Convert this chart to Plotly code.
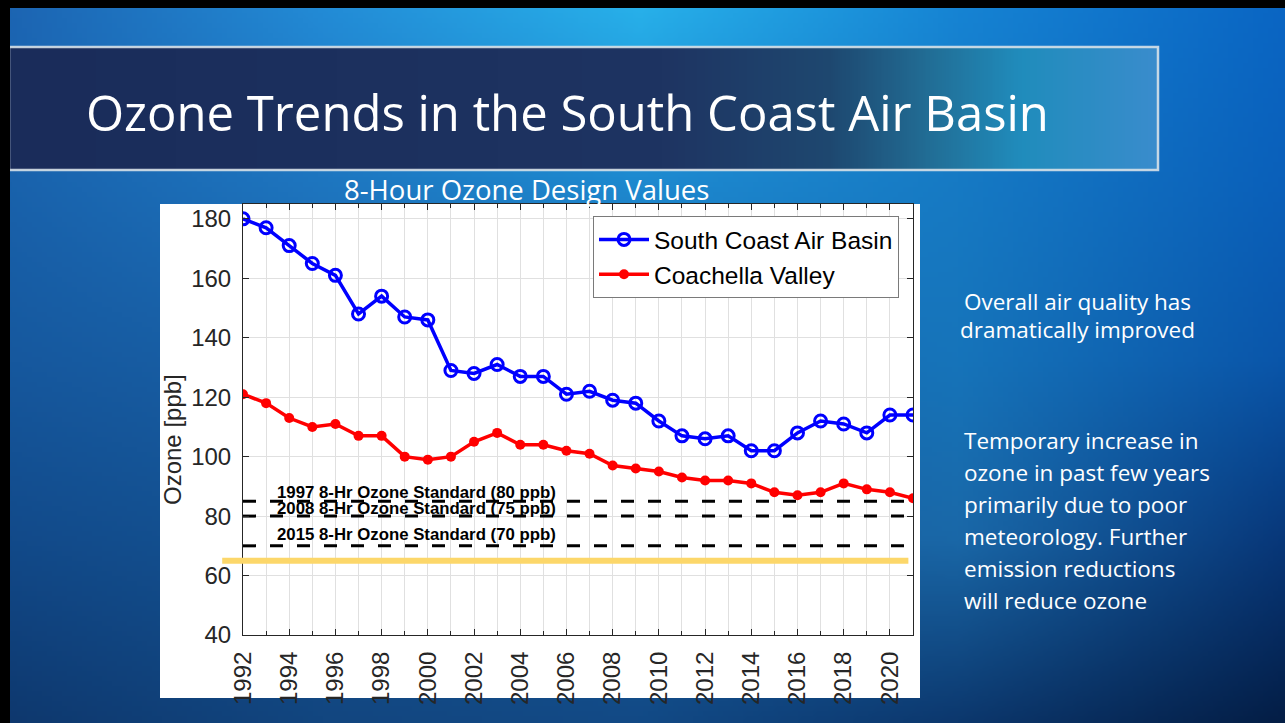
import base64
import struct
import zlib

import numpy as np
import plotly.graph_objects as go

# ---------------- data ----------------
years = list(range(1992, 2022))
south_coast = [180, 177, 171, 165, 161, 148, 154, 147, 146, 129,
               128, 131, 127, 127, 121, 122, 119, 118, 112, 107,
               106, 107, 102, 102, 108, 112, 111, 108, 114, 114]
coachella = [121, 118, 113, 110, 111, 107, 107, 100, 99, 100,
             105, 108, 104, 104, 102, 101, 97, 96, 95, 93,
             92, 92, 91, 88, 87, 88, 91, 89, 88, 86]
standard_levels = [85, 80, 70]
standard_labels = ["1997 8-Hr Ozone Standard (80 ppb)",
                   "2008 8-Hr Ozone Standard (75 ppb)",
                   "2015 8-Hr Ozone Standard (70 ppb)"]
standard_label_y = [87.8, 82.7, 73.7]
background_level = 65
x_tick_years = list(range(1992, 2021, 2))
y_ticks = [40, 60, 80, 100, 120, 140, 160, 180]

W, H = 1285, 723
SLIDE_FONT = "Open Sans"


def px(x):
    return x / W


def py(y):
    return 1 - y / H


# ---------------- background images ----------------
def png_uri(arr):
    arr = np.ascontiguousarray(arr.astype(np.uint8))
    h, w, _ = arr.shape
    raw = b"".join(b"\x00" + arr[i].tobytes() for i in range(h))

    def chunk(tag, data):
        c = struct.pack(">I", len(data)) + tag + data
        return c + struct.pack(">I", zlib.crc32(tag + data) & 0xFFFFFFFF)

    png = (b"\x89PNG\r\n\x1a\n"
           + chunk(b"IHDR", struct.pack(">IIBBBBB", w, h, 8, 2, 0, 0, 0))
           + chunk(b"IDAT", zlib.compress(raw, 9))
           + chunk(b"IEND", b""))
    return "data:image/png;base64," + base64.b64encode(png).decode()


gx = np.array([0, 320, 640, 960, 1285], float)
gy = np.array([0, 180, 360, 540, 723], float)
grid = np.array([
    [(28, 100, 178), (35, 140, 215), (40, 178, 235), (22, 132, 212), (10, 102, 196)],
    [(25, 98, 172), (30, 118, 192), (30, 138, 208), (22, 122, 196), (10, 96, 186)],
    [(22, 88, 158), (25, 98, 168), (25, 108, 178), (22, 116, 186), (10, 86, 170)],
    [(18, 74, 138), (20, 84, 148), (22, 94, 158), (26, 104, 168), (8, 56, 122)],
    [(14, 56, 110), (18, 70, 128), (18, 74, 134), (12, 56, 110), (4, 30, 70)],
], float)
rw, rh = 257, 145
xs = np.linspace(0, W, rw)
ys = np.linspace(0, H, rh)
bg = np.zeros((rh, rw, 3))
for c in range(3):
    tmp = np.array([np.interp(xs, gx, grid[j, :, c]) for j in range(len(gy))])
    bg[:, :, c] = np.array([np.interp(ys, gy, tmp[:, i]) for i in range(rw)]).T
bg_uri = png_uri(bg)

bx = np.array([0, 650, 820, 920, 1010, 1148], float)
bcol = np.array([(26, 44, 90), (30, 52, 98), (30, 72, 112), (34, 110, 150),
                 (32, 140, 188), (58, 140, 205)], float)
bxs = np.linspace(0, 1148, 300)
bar = np.zeros((2, 300, 3))
for c in range(3):
    bar[:, :, c] = np.interp(bxs, bx, bcol[:, c])
bar_uri = png_uri(bar)

# ---------------- figure ----------------
fig = go.Figure()

for lvl in standard_levels:
    fig.add_trace(go.Scatter(
        x=[years[0], years[-1]], y=[lvl, lvl], mode="lines",
        line=dict(color="black", width=3, dash="13px,14px"),
        showlegend=False, hoverinfo="skip"))

fig.add_trace(go.Scatter(
    x=years, y=south_coast, mode="lines+markers", name="South Coast Air Basin",
    line=dict(color="#0000ff", width=3.5),
    marker=dict(symbol="circle-open", size=12, color="#0000ff",
                line=dict(width=3, color="#0000ff"))))
fig.add_trace(go.Scatter(
    x=years, y=coachella, mode="lines+markers", name="Coachella Valley",
    line=dict(color="#ff0000", width=3.5),
    marker=dict(symbol="circle", size=10, color="#ff0000")))

x_dom = [px(243), px(913)]
y_dom = [py(635), py(204)]
x_rng = [1992, 2021]


def year_to_paper(yr):
    return x_dom[0] + (yr - x_rng[0]) / (x_rng[1] - x_rng[0]) * (x_dom[1] - x_dom[0])


shapes = [
    dict(type="rect", xref="paper", yref="paper", x0=px(160), x1=px(920),
         y0=py(698), y1=py(204), fillcolor="white", line_width=0, layer="below"),
    dict(type="rect", xref="paper", yref="paper", x0=px(9), x1=px(1158),
         y0=py(170), y1=py(47), fillcolor="rgba(0,0,0,0)",
         line=dict(color="rgba(215,225,232,0.9)", width=2.5), layer="below"),
    dict(type="rect", xref="paper", yref="paper", x0=0, x1=px(10),
         y0=0, y1=1, fillcolor="black", line_width=0, layer="below"),
    dict(type="rect", xref="paper", yref="paper", x0=0, x1=1,
         y0=py(8), y1=1, fillcolor="black", line_width=0, layer="below"),
    dict(type="line", xref="paper", yref="y",
         x0=year_to_paper(1991.1), x1=year_to_paper(2020.8),
         y0=background_level, y1=background_level,
         line=dict(color="#fcd76a", width=6)),
]

annotations = [
    dict(text="Ozone Trends in the South Coast Air Basin", x=px(84), y=py(112),
         xref="paper", yref="paper", xanchor="left", yanchor="middle",
         showarrow=False, font=dict(family=SLIDE_FONT, size=49, color="white")),
    dict(text="8-Hour Ozone Design Values", x=px(526), y=py(190),
         xref="paper", yref="paper", xanchor="center", yanchor="middle",
         showarrow=False, font=dict(family=SLIDE_FONT, size=27.5, color="white")),
    dict(text="Ozone [ppb]", x=px(173), y=py(440), textangle=-90,
         xref="paper", yref="paper", xanchor="center", yanchor="middle",
         showarrow=False, font=dict(family="Liberation Sans", size=24, color="#262626")),
]
for lbl, ly in zip(standard_labels, standard_label_y):
    annotations.append(dict(
        text="<b>" + lbl + "</b>", x=2005.65, y=ly, xref="x", yref="y",
        xanchor="right", yanchor="middle", showarrow=False,
        font=dict(family="Liberation Sans", size=16.8, color="black")))

right1 = [("Overall air quality has", 301), ("dramatically improved", 330)]
for t, yy in right1:
    annotations.append(dict(text=t, x=px(1077), y=py(yy), xref="paper", yref="paper",
                            xanchor="center", yanchor="middle", showarrow=False,
                            font=dict(family=SLIDE_FONT, size=22.5, color="white")))
right2 = ["Temporary increase in", "ozone in past few years", "primarily due to poor",
          "meteorology. Further", "emission reductions", "will reduce ozone"]
for i, t in enumerate(right2):
    annotations.append(dict(text=t, x=px(962), y=py(440.5 + 32 * i), xref="paper",
                            yref="paper", xanchor="left", yanchor="middle",
                            showarrow=False,
                            font=dict(family=SLIDE_FONT, size=22.5, color="white")))

axis_common = dict(showline=True, linecolor="#262626", linewidth=1, mirror="allticks",
                   ticks="inside", ticklen=6, tickcolor="#262626", showgrid=True,
                   gridcolor="#e0e0e0", gridwidth=1, zeroline=False,
                   tickfont=dict(family="Liberation Sans", size=24, color="#262626"))

fig.update_layout(
    width=W, height=H, template="none",
    margin=dict(l=0, r=0, t=0, b=0),
    paper_bgcolor="#1560a8", plot_bgcolor="white",
    showlegend=True,
    legend=dict(x=px(899), y=py(216), xanchor="right", yanchor="top",
                xref="paper", yref="paper",
                bgcolor="white", bordercolor="#7a7a7a", borderwidth=1,
                font=dict(family="Liberation Sans", size=24.5, color="black"),
                itemwidth=50, tracegroupgap=0),
    xaxis=dict(domain=x_dom, range=x_rng, tickmode="array", tickvals=x_tick_years,
               ticktext=[str(v) for v in x_tick_years], tickangle=-90,
               ticklabelstandoff=6,
               minor=dict(dtick=1, tick0=1992, ticks="inside", ticklen=4,
                          tickcolor="#262626", showgrid=True, gridcolor="#e0e0e0"),
               **axis_common),
    yaxis=dict(domain=y_dom, range=[40, 185], tickmode="array", tickvals=y_ticks,
               ticklabelstandoff=6, **axis_common),
    shapes=shapes,
    annotations=annotations,
    images=[
        dict(source=bg_uri, xref="paper", yref="paper", x=0, y=1, sizex=1, sizey=1,
             sizing="stretch", layer="below", xanchor="left", yanchor="top"),
        dict(source=bar_uri, xref="paper", yref="paper", x=px(10), y=py(47),
             sizex=px(1148), sizey=py(47) - py(170), sizing="stretch",
             layer="below", xanchor="left", yanchor="top"),
    ],
)

fig.write_html("out.html", config={"displayModeBar": False},
               post_script="document.body.style.margin='0';document.body.style.overflow='hidden';")
